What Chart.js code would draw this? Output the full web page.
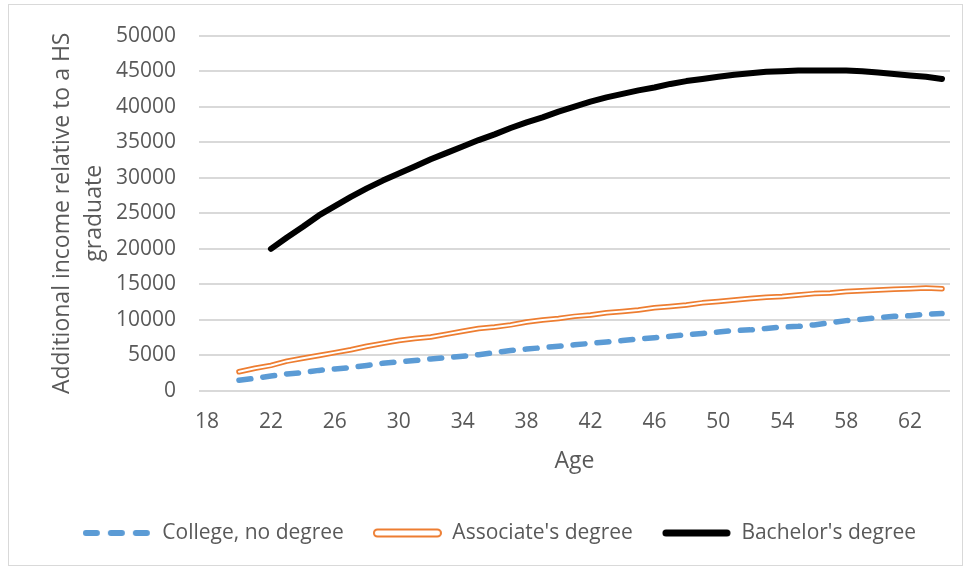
<!DOCTYPE html>
<html>
<head>
<meta charset="utf-8">
<script src="https://cdn.jsdelivr.net/npm/chart.js@4.4.1/dist/chart.umd.min.js"></script>
<style>
  html, body { margin: 0; padding: 0; background: #fff; }
  #frame { position: absolute; left: 8px; top: 4px; width: 953px; height: 560px; border: 1px solid #d9d9d9; }
  #chart { position: absolute; left: 0; top: 0; }
</style>
</head>
<body>
<div id="frame"></div>
<canvas id="chart" width="971" height="568"></canvas>
<script>
// ages on the category axis (18..64)
const AGES = [18, 19, 20, 21, 22, 23, 24, 25, 26, 27, 28, 29, 30, 31, 32, 33, 34, 35, 36, 37, 38, 39, 40, 41,
  42, 43, 44, 45, 46, 47, 48, 49, 50, 51, 52, 53, 54, 55, 56, 57, 58, 59, 60, 61, 62, 63, 64];

const COLLEGE = [null, null, 1500, 1800, 2100, 2400, 2600, 2900, 3100, 3300, 3600, 3900, 4100, 4300, 4500,
  4700, 4900, 5100, 5400, 5700, 5900, 6100, 6300, 6500, 6700, 6900, 7100, 7300, 7500, 7700, 7900, 8100,
  8300, 8500, 8600, 8800, 9000, 9100, 9300, 9600, 9900, 10100, 10300, 10500, 10600, 10800, 10900];

const ASSOCIATE = [null, null, 2700, 3200, 3600, 4200, 4600, 5000, 5400, 5800, 6300, 6700, 7100, 7400, 7600,
  8000, 8400, 8800, 9000, 9300, 9700, 10000, 10200, 10500, 10700, 11000, 11200, 11400, 11700, 11900, 12100,
  12400, 12600, 12800, 13000, 13200, 13300, 13500, 13700, 13800, 14000, 14100, 14200, 14300, 14400, 14500, 14400];

const BACHELOR = [null, null, null, null, 20000, 21600, 23100, 24700, 26000, 27300, 28500, 29600, 30600,
  31600, 32600, 33500, 34400, 35300, 36100, 37000, 37800, 38500, 39300, 40000, 40700, 41300, 41800, 42300,
  42700, 43200, 43600, 43900, 44200, 44500, 44700, 44900, 45000, 45100, 45100, 45100, 45100, 45000, 44800,
  44600, 44400, 44200, 43900];

const BLUE = '#5b9bd5';
const ORANGE = '#ed7d31';
const TEXT = '#595959';
const GRID = '#d9d9d9';
const FONT = "'Open Sans', sans-serif";

function legendIcon(draw) {
  const c = document.createElement('canvas');
  c.width = 69;
  c.height = 10;
  draw(c.getContext('2d'));
  return c;
}

const collegeIcon = legendIcon((g) => {
  g.strokeStyle = BLUE;
  g.lineWidth = 6;
  g.lineCap = 'round';
  g.setLineDash([11, 14]);
  g.beginPath();
  g.moveTo(3, 5);
  g.lineTo(66, 5);
  g.stroke();
});

const associateIcon = legendIcon((g) => {
  g.strokeStyle = ORANGE;
  g.fillStyle = '#fff';
  g.lineWidth = 2;
  g.beginPath();
  g.roundRect(1, 1.5, 67, 7, 3.5);
  g.fill();
  g.stroke();
});

const bachelorIcon = legendIcon((g) => {
  g.strokeStyle = '#000';
  g.lineWidth = 7;
  g.lineCap = 'round';
  g.beginPath();
  g.moveTo(4, 5);
  g.lineTo(65, 5);
  g.stroke();
});

// Excel centres the legend a bit right of the canvas centre
const legendShift = {
  id: 'legendShift',
  afterLayout(chart) {
    chart.legend.left += 14.5;
    chart.legend.right += 14.5;
  },
};

const el = document.getElementById('chart');
new Chart(el, {
  type: 'line',
  data: {
    labels: AGES,
    datasets: [
      {
        label: 'College, no degree',
        data: COLLEGE,
        borderColor: BLUE,
        borderWidth: 5.5,
        borderDash: [12, 12],
        borderCapStyle: 'round',
        pointRadius: 0,
        pointStyle: collegeIcon,
        order: 1,
      },
      {
        label: "Associate's degree",
        data: ASSOCIATE,
        borderColor: ORANGE,
        borderWidth: 5.5,
        borderCapStyle: 'round',
        borderJoinStyle: 'round',
        pointRadius: 0,
        pointStyle: associateIcon,
        order: 1,
      },
      {
        label: "Bachelor's degree",
        data: BACHELOR,
        borderColor: '#000',
        borderWidth: 6,
        borderCapStyle: 'round',
        borderJoinStyle: 'round',
        pointRadius: 0,
        pointStyle: bachelorIcon,
        order: 1,
      },
      {
        // white core that turns the orange line into a double line
        label: '',
        data: ASSOCIATE,
        borderColor: '#fff',
        borderWidth: 2,
        borderCapStyle: 'round',
        borderJoinStyle: 'round',
        pointRadius: 0,
        order: 0,
      },
    ],
  },
  options: {
    responsive: false,
    animation: false,
    spanGaps: false,
    layout: { padding: { left: 20, right: 21, top: 33, bottom: 14.5 } },
    scales: {
      x: {
        type: 'category',
        offset: true,
        grid: { display: false, drawTicks: false },
        border: { display: false },
        ticks: {
          autoSkip: false,
          maxRotation: 0,
          padding: 18,
          color: TEXT,
          font: { family: FONT, size: 21 },
          callback: function (value, index) {
            return index % 4 === 0 ? String(AGES[index]) : '';
          },
        },
        title: {
          display: true,
          text: 'Age',
          color: TEXT,
          font: { family: FONT, size: 23 },
          // tick padding is counted twice in the axis size, so take it back here
          padding: { top: -5, bottom: 18.7 },
        },
      },
      y: {
        min: 0,
        max: 50000,
        grid: { color: GRID, lineWidth: 2, drawTicks: false },
        border: { display: false },
        ticks: {
          stepSize: 5000,
          padding: 23,
          color: TEXT,
          font: { family: FONT, size: 21 },
          callback: (v) => String(v),
        },
        title: {
          display: true,
          text: ['Additional income relative to a HS', 'graduate'],
          color: TEXT,
          font: { family: FONT, size: 23, lineHeight: 32 / 23 },
          padding: { top: 26, bottom: -17 },
        },
      },
    },
    plugins: {
      tooltip: { enabled: false },
      legend: {
        position: 'bottom',
        labels: {
          usePointStyle: true,
          pointStyleWidth: 69,
          boxHeight: 10,
          padding: 29,
          color: TEXT,
          font: { family: FONT, size: 21 },
          filter: (item) => item.text !== '',
        },
      },
    },
  },
  plugins: [legendShift],
});
</script>
</body>
</html>
